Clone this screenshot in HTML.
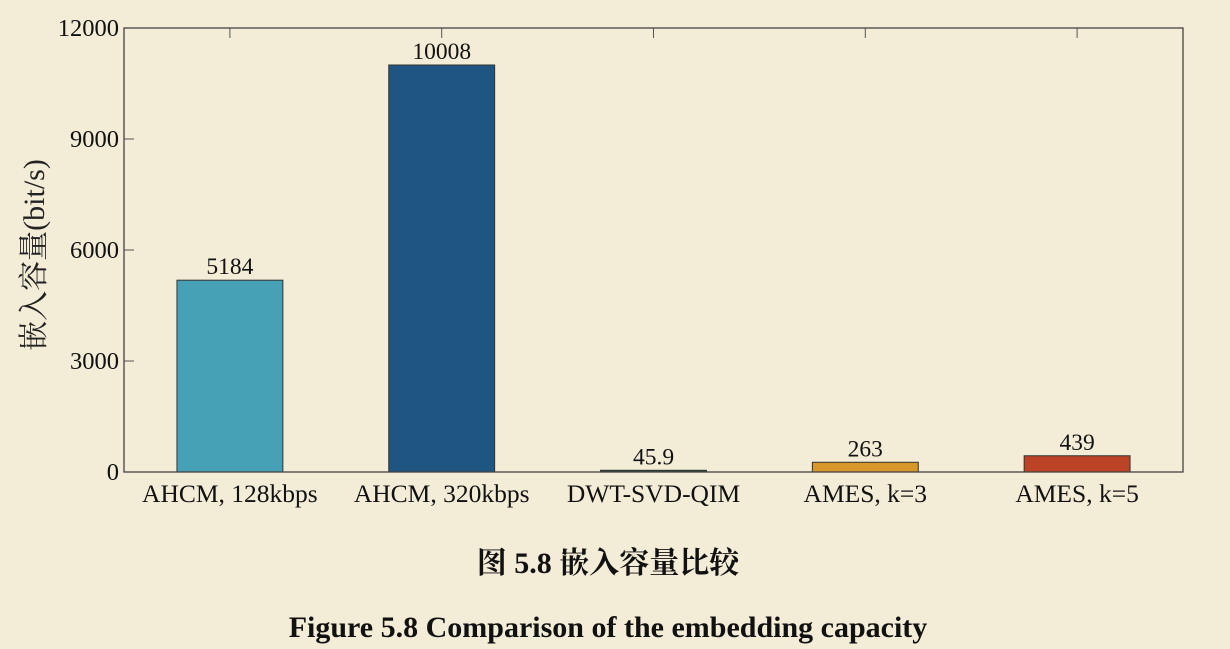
<!DOCTYPE html>
<html><head><meta charset="utf-8">
<style>
body{margin:0;background:#f3ecd6;}
svg{display:block;font-family:"Liberation Serif","Noto Serif CJK SC",serif;}
</style></head>
<body>
<svg id="chart" width="1230" height="649" viewBox="0 0 1230 649">
<rect width="1230" height="649" fill="#f3ecd6"/>
<g id="plot"></g>
<text x="44" y="255" transform="rotate(-90 44 255)" text-anchor="middle" font-size="30" fill="#222">嵌入容量(bit/s)</text>
<text x="608" y="573" text-anchor="middle" font-size="30" font-weight="bold" fill="#111">图 5.8 嵌入容量比较</text>
<text x="608" y="637" text-anchor="middle" font-size="30" font-weight="bold" fill="#111">Figure 5.8 Comparison of the embedding capacity</text>
</svg>
<script>
const categories=["AHCM, 128kbps","AHCM, 320kbps","DWT-SVD-QIM","AMES, k=3","AMES, k=5"];
const values=[5184,11000,45.9,263,439];
const valueLabels=["5184","10008","45.9","263","439"];
const colors=["#46a1b6","#1e5581","#2e4a3a","#d8972a","#bd4326"];
const yTicks=[0,3000,6000,9000,12000];
const yMax=12000;
const L=124,R=1183,T=28,B=472;
const NS="http://www.w3.org/2000/svg";
const g=document.getElementById('plot');
function y(v){return B-(v/yMax)*(B-T);}
function x(i){return L+(i+0.5)*(R-L)/categories.length;}
const bw=0.5*(R-L)/categories.length;
function mk(t,a){const e=document.createElementNS(NS,t);for(const k in a)e.setAttribute(k,a[k]);g.appendChild(e);return e;}
values.forEach((v,i)=>{
  const r=mk('rect',{x:x(i)-bw/2,y:y(v),width:bw,height:B-y(v),fill:colors[i],stroke:'#333','stroke-width':1});
  
  
  const t=mk('text',{x:x(i),y:y(v)-6,'text-anchor':'middle','font-size':23.5,fill:'#111'});
  t.textContent=valueLabels[i];
  
  
  const c=mk('text',{x:x(i),y:B+30,'text-anchor':'middle','font-size':25.5,fill:'#111'});
  c.textContent=categories[i];
  
  
  const tk=mk('line',{x1:x(i),x2:x(i),y1:T,y2:T+10,stroke:'#555','stroke-width':1});
  
  
});
yTicks.forEach(v=>{
  const l=mk('line',{x1:L,x2:L+10,y1:y(v),y2:y(v),stroke:'#555','stroke-width':1});
  
  
  const t=mk('text',{x:L-5,y:y(v)+8,'text-anchor':'end','font-size':24.5,fill:'#111'});
  t.textContent=String(v);
  
  
});
const f=mk('rect',{x:L,y:T,width:R-L,height:B-T,fill:'none',stroke:'#444','stroke-width':1.3});


</script>
</body></html>
